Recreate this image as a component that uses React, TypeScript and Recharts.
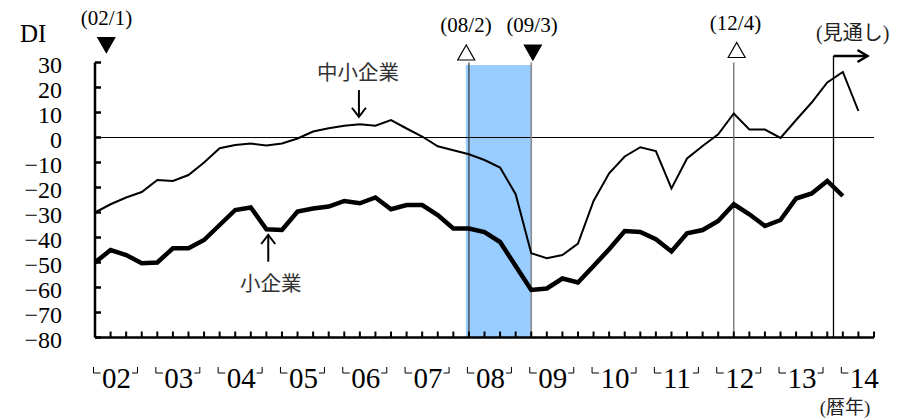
import React from 'react';
import { LineChart, Line, XAxis, YAxis, ReferenceArea, ReferenceLine, ReferenceDot } from 'recharts';

// Year labels for the quarterly axis (2002Q1 .. 2014Q3)
const yearLabels = ['02', '03', '04', '05', '06', '07', '08', '09', '10', '11', '12', '13', '14'];

// 中小企業 DI (quarterly, 02Q1 .. 14Q2 incl. outlook)
const chushoDI = [
  -30, -26.7, -24, -21.8, -17, -17.4, -15, -10, -4.3, -3, -2.4, -3.2, -2.4, -0.4, 2.4, 3.7,
  4.7, 5.3, 4.7, 7, 3.6, 0.4, -3.5, -5.1, -6.7, -9, -12, -22.7, -46.3, -48.3, -47, -42.4,
  -25.4, -14.3, -7.6, -3.9, -5.4, -20.4, -8.4, -3.4, 1.3, 9.6, 3.2, 3.2, -0.2, 7, 14, 22,
  26.2, 10.6,
];

// 小企業 DI (quarterly, 02Q1 .. 14Q1 incl. outlook)
const shoDI = [
  -50, -45, -47, -50.3, -50, -44.3, -44.3, -41, -35, -29, -28, -36.7, -37, -29.6, -28.4, -27.6,
  -25.4, -26.3, -24, -28.7, -27, -27, -31, -36.4, -36.4, -37.8, -41.8, -51.4, -61, -60.4, -56.4, -58,
  -51.4, -44.7, -37.4, -37.8, -40.7, -45.6, -38.3, -37, -33.4, -26.7, -30.7, -35.4, -33, -24.4, -22.4, -17.4,
  -23.4,
];

const yTicks = [30, 20, 10, 0, -10, -20, -30, -40, -50, -60, -70, -80];

// Business-cycle turning points (quarter index from 02Q1)
const turnPeak1 = 24; // (08/2)
const turnTrough = 28; // (09/3)
const turnPeak2 = 41; // (12/4)
const turnTrough0 = 0.7; // (02/1)
const outlookStart = 47.4;
const recessionStart = 23.8;
const recessionEnd = 28;

const xTicks = Array.from({ length: 51 }, (_, i) => i);

const data = chushoDI.map((v, i) => ({
  q: i,
  chusho: v,
  sho: i < shoDI.length ? shoDI[i] : null,
}));

const SERIF = "'Times New Roman', 'Liberation Serif', 'DejaVu Serif', serif";
const CJK = "'Noto Sans CJK JP', sans-serif";

const fmtY = (v: number) => (v < 0 ? '\u2212' + Math.abs(v) : String(v));

function YTick(props: any) {
  const { x, y, payload } = props;
  return (
    <g>
      <line x1={x} x2={x + 6} y1={y} y2={y} stroke="#000" strokeWidth={2.5} />
      <text x={x - 33} y={y + 10} textAnchor="end" fontFamily={SERIF} fontSize={24} fill="#000">
        {fmtY(payload.value)}
      </text>
    </g>
  );
}

function XTick(props: any) {
  const { x, y, payload } = props;
  const v = payload.value as number;
  const els: any[] = [
    <line key="t" x1={x} x2={x} y1={y} y2={y - 6} stroke="#000" strokeWidth={2} />,
  ];
  if (v % 4 === 0) {
    const idx = v / 4;
    const label = yearLabels[idx];
    if (label) {
      els.push(
        <path key="l" d={`M${x - 1.5},${y + 29.5}V${y + 35.5}H${x + 5.5}`} stroke="#000" strokeWidth={1} fill="none" />
      );
      els.push(
        <text key="s" x={x + 7} y={y + 50} fontFamily={SERIF} fontSize={29} fill="#000">
          {label}
        </text>
      );
      if (idx < yearLabels.length - 1) {
        els.push(
          <path key="r" d={`M${x + 37},${y + 35.5}H${x + 42.5}V${y + 29.5}`} stroke="#000" strokeWidth={1} fill="none" />
        );
      }
    }
  }
  return <g>{els}</g>;
}

function makeMarker(label: string, filled: boolean, triBottom: number, triDx: number, textBase: number, textDx: number) {
  return (p: any) => {
    const { cx, cy } = p;
    const tx = cx + triDx;
    const b = cy - triBottom;
    const t = b - 15;
    const pts = filled
      ? `${tx - 8.5},${t} ${tx + 8.5},${t} ${tx},${b}`
      : `${tx},${t} ${tx - 8.5},${b} ${tx + 8.5},${b}`;
    return (
      <g>
        <polygon points={pts} fill={filled ? '#000' : '#fff'} stroke="#000" strokeWidth={1.2} />
        <text x={cx + textDx} y={cy - textBase} textAnchor="middle" fontFamily={SERIF} fontSize={21} fill="#000">
          {label}
        </text>
      </g>
    );
  };
}

const chushoNote = (p: any) => {
  const { cx, cy } = p;
  return (
    <g>
      <text x={cx - 1} y={cy - 36.4} textAnchor="middle" fontFamily={CJK} fontSize={20.5} fill="#333">
        中小企業
      </text>
      <line x1={cx} x2={cx} y1={cy - 26.7} y2={cy} stroke="#000" strokeWidth={2} />
      <polyline points={`${cx - 7},${cy - 9} ${cx},${cy} ${cx + 7},${cy - 9}`} fill="none" stroke="#000" strokeWidth={2} />
    </g>
  );
};

const shoNote = (p: any) => {
  const { cx, cy } = p;
  return (
    <g>
      <line x1={cx} x2={cx} y1={cy} y2={cy + 26.7} stroke="#000" strokeWidth={2} />
      <polyline points={`${cx - 7},${cy + 9} ${cx},${cy} ${cx + 7},${cy + 9}`} fill="none" stroke="#000" strokeWidth={2} />
      <text x={cx + 2.5} y={cy + 55.5} textAnchor="middle" fontFamily={CJK} fontSize={20.5} fill="#333">
        小企業
      </text>
    </g>
  );
};

const outlookNote = (p: any) => {
  const { cx, cy } = p;
  return (
    <g>
      <line x1={cx} x2={cx + 34} y1={cy} y2={cy} stroke="#000" strokeWidth={2.5} />
      <polyline points={`${cx + 24},${cy - 6} ${cx + 34},${cy} ${cx + 24},${cy + 6}`} fill="none" stroke="#000" strokeWidth={2.5} />
      <text x={cx + 19.3} y={cy - 16.3} textAnchor="middle" fontSize={20} fill="#222">
        <tspan fontFamily={SERIF}>(</tspan>
        <tspan fontFamily={CJK}>見通し</tspan>
        <tspan fontFamily={SERIF}>)</tspan>
      </text>
    </g>
  );
};

const diLabel = (p: any) => {
  const vb = p.viewBox || {};
  return (
    <text x={20} y={(vb.y ?? 62.5) - 20.8} fontFamily={SERIF} fontSize={25} fill="#000">
      DI
    </text>
  );
};

const yearUnitLabel = (p: any) => {
  const vb = p.viewBox || {};
  const right = (vb.x ?? 95) + (vb.width ?? 779);
  return (
    <text x={right - 29} y={(vb.y ?? 337.5) + 76} textAnchor="middle" fontSize={19} fill="#222">
      <tspan fontFamily={SERIF}>(</tspan>
      <tspan fontFamily={CJK}>暦年</tspan>
      <tspan fontFamily={SERIF}>)</tspan>
    </text>
  );
};

export default function App() {
  return (
    <div style={{ position: 'absolute', left: 0, top: 0, width: 907, height: 418, background: '#fff' }}>
      <LineChart width={907} height={418} data={data} margin={{ top: 62.5, right: 33, bottom: 0, left: 0 }}>
        <ReferenceArea x1={recessionStart} x2={recessionEnd} y1={-80} y2={29} fill="#99CCFF" fillOpacity={1} stroke="none" ifOverflow="visible" />
        <ReferenceLine y={0} stroke="#000" strokeWidth={1} />
        <ReferenceLine x={turnPeak1} stroke="#333" strokeWidth={1.2} />
        <ReferenceLine x={turnTrough} stroke="#8a8a8a" strokeWidth={1.6} />
        <ReferenceLine x={turnPeak2} stroke="#6e6e6e" strokeWidth={1.3} />
        <ReferenceLine
          segment={[{ x: outlookStart, y: -80 }, { x: outlookStart, y: 32.6 }]}
          stroke="#000"
          strokeWidth={1.3}
          ifOverflow="visible"
        />
        <XAxis
          type="number"
          dataKey="q"
          domain={[0, 50]}
          ticks={xTicks}
          interval={0}
          height={80.5}
          tickSize={0}
          tickMargin={0}
          tickLine={false}
          axisLine={{ stroke: '#000', strokeWidth: 2.5 }}
          tick={<XTick />}
          label={{ content: yearUnitLabel }}
          allowDataOverflow
        />
        <YAxis
          type="number"
          domain={[-80, 30]}
          ticks={yTicks}
          interval={0}
          width={95}
          tickSize={0}
          tickMargin={0}
          tickLine={false}
          axisLine={{ stroke: '#000', strokeWidth: 2.5 }}
          tick={<YTick />}
          label={{ content: diLabel }}
          allowDataOverflow
        />
        <Line type="linear" dataKey="chusho" stroke="#000" strokeWidth={2} dot={false} isAnimationActive={false} />
        <Line type="linear" dataKey="sho" stroke="#000" strokeWidth={4.5} dot={false} isAnimationActive={false} />
        <ReferenceDot x={turnTrough0} y={30} ifOverflow="visible" shape={makeMarker('(02/1)', true, 10, 0.4, 37.5, 0.6)} />
        <ReferenceDot x={turnPeak1} y={30} ifOverflow="visible" shape={makeMarker('(08/2)', false, 2.5, -2.7, 31, -2.9)} />
        <ReferenceDot x={turnTrough} y={30} ifOverflow="visible" shape={makeMarker('(09/3)', true, 2.5, 1.6, 31, 0.8)} />
        <ReferenceDot x={turnPeak2} y={30} ifOverflow="visible" shape={makeMarker('(12/4)', false, 5, 2.9, 32.5, 1.7)} />
        <ReferenceDot x={16.94} y={8.3} ifOverflow="visible" shape={chushoNote} />
        <ReferenceDot x={11.12} y={-39} ifOverflow="visible" shape={shoNote} />
        <ReferenceDot x={outlookStart} y={32.6} ifOverflow="visible" shape={outlookNote} />
      </LineChart>
    </div>
  );
}
